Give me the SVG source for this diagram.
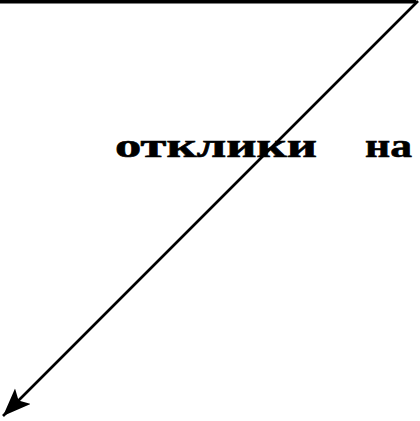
<svg xmlns="http://www.w3.org/2000/svg" width="420" height="421" viewBox="0 0 420 421">
<defs>
<style>
.t{font-family:"Liberation Serif","Times New Roman",serif;font-weight:bold;font-size:33px;fill:#000;stroke:#000;stroke-width:0.6}
.c{stroke:#000;fill:none}
</style>
<marker id="ah" markerUnits="userSpaceOnUse" markerWidth="32" markerHeight="26" refX="28" refY="11" orient="auto">
<path d="M0,0 L28,11 L0,22 L6,11 Z" fill="#000"/>
</marker>
</defs>
<rect width="420" height="421" fill="#fff"/>
<g id="connectors">
<line class="c" x1="0" y1="1.8" x2="416" y2="1.8" stroke-width="3.6"/>
<line class="c" x1="418" y1="1" x2="3" y2="416" stroke-width="2.6" marker-end="url(#ah)"/>
</g>
<g id="label">
<text class="t" x="115" y="157" textLength="202" lengthAdjust="spacingAndGlyphs">отклики</text>
<text class="t" x="365" y="157" textLength="47" lengthAdjust="spacingAndGlyphs">на</text>
</g>
</svg>
